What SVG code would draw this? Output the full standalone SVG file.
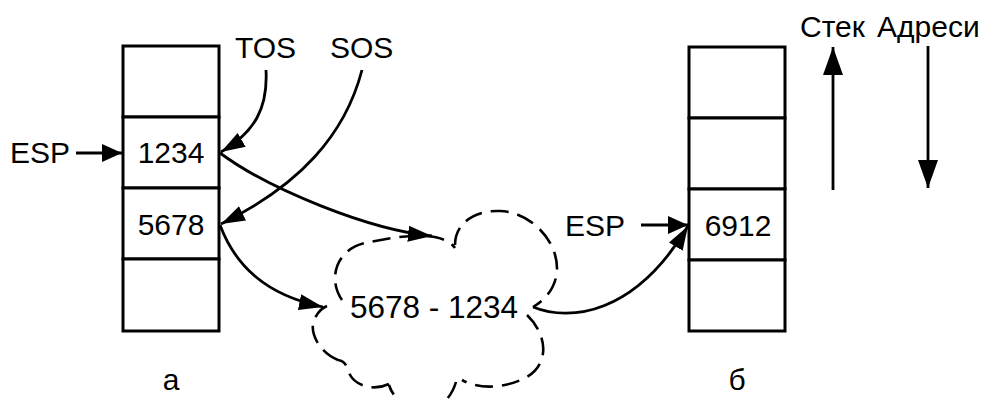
<svg xmlns="http://www.w3.org/2000/svg" width="987" height="399" viewBox="0 0 987 399">
<style>
text{font-family:"Liberation Sans",Arial,sans-serif;font-size:30px;fill:#000}
.cell{fill:#fff;stroke:#000;stroke-width:3}
.con{fill:none;stroke:#000;stroke-width:2.8}
.cloud{fill:none;stroke:#000;stroke-width:2.6;stroke-dasharray:18 9}
</style>
<defs>
<marker id="ah" markerUnits="userSpaceOnUse" markerWidth="26" markerHeight="18" refX="24" refY="8" orient="auto"><path d="M0,0 L24,8 L0,16 z" fill="#000"/></marker>
<marker id="ahE" markerUnits="userSpaceOnUse" markerWidth="22" markerHeight="20" refX="20" refY="9" orient="auto"><path d="M0,0 L20,9 L0,18 z" fill="#000"/></marker>
<marker id="ahB" markerUnits="userSpaceOnUse" markerWidth="30" markerHeight="22" refX="28" refY="10" orient="auto"><path d="M0,0 L28,10 L0,20 z" fill="#000"/></marker>
</defs>
<g id="stack-a">
<rect class="cell" x="123" y="46" width="96" height="71"/>
<rect class="cell" x="123" y="117" width="96" height="71"/>
<rect class="cell" x="123" y="188" width="96" height="71"/>
<rect class="cell" x="123" y="259" width="96" height="72"/>
<text x="171" y="163" text-anchor="middle">1234</text>
<text x="171" y="235" text-anchor="middle">5678</text>
<text x="171" y="390" text-anchor="middle">а</text>
</g>
<g id="stack-b">
<rect class="cell" x="689" y="47" width="96" height="71"/>
<rect class="cell" x="689" y="118" width="96" height="71"/>
<rect class="cell" x="689" y="189" width="96" height="71"/>
<rect class="cell" x="689" y="260" width="96" height="71"/>
<text x="738" y="236" text-anchor="middle">6912</text>
<text x="737" y="390" text-anchor="middle">б</text>
</g>
<g id="cloud">
<path class="cloud" d="M342,300 C328,280 335,250 365,243 C395,237 440,228 455,248 M455,245 C455,220 480,210 500,211 C530,212 558,240 557,270 C556,288 545,300 533,307 M527,315 C548,335 550,365 525,378 C505,388 480,390 462,380 M456,382 C450,402 435,412 420,410 C405,408 393,398 389,385 M389,384 C372,392 352,385 348,370 C346,364 344,361 338,360 M338,360 C318,352 308,330 315,318 C318,312 322,308 327,306"/>
<text x="434" y="318" text-anchor="middle" style="font-size:31.5px">5678 - 1234</text>
</g>
<g id="labels">
<text x="10" y="163">ESP</text>
<text x="565" y="236">ESP</text>
<text x="235" y="58">TOS</text>
<text x="330" y="58">SOS</text>
<text x="800" y="37">Стек</text>
<text x="877" y="37">Адреси</text>
</g>
<g id="connectors">
<path class="con" d="M76,153 L122,153" marker-end="url(#ahE)"/>
<path class="con" d="M641,225 L688,225" marker-end="url(#ahE)"/>
<path class="con" d="M266,70 C268,108 255,132 221,152" marker-end="url(#ah)"/>
<path class="con" d="M362,70 C345,135 300,185 221,224" marker-end="url(#ah)"/>
<path class="con" d="M220,153 C270,190 370,230 432,236" marker-end="url(#ah)"/>
<path class="con" d="M220,225 C235,265 265,295 323,307" marker-end="url(#ah)"/>
<path class="con" d="M533,307 C570,322 635,315 688,226" marker-end="url(#ah)"/>
<path class="con" stroke-width="3" d="M833,190 L833,47" marker-end="url(#ahB)"/>
<path class="con" stroke-width="3" d="M928,46 L928,188" marker-end="url(#ahB)"/>
</g>
</svg>
